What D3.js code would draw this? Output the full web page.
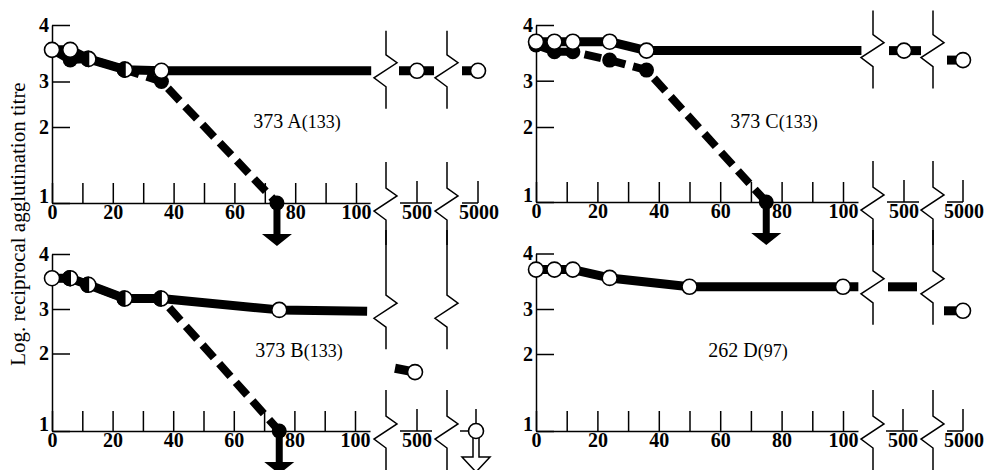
<!DOCTYPE html>
<html><head><meta charset="utf-8">
<script src="https://cdn.jsdelivr.net/npm/d3@7"></script>
<style>
html,body{margin:0;padding:0;background:#fff;}
svg{display:block;}
</style></head><body>
<svg id="chart" width="988" height="470"></svg>
<script>
// ---------------- data ----------------
const panelNames = ["373 A", "373 C", "373 B", "262 D"];
const panelCounts = ["(133)", "(133)", "(133)", "(97)"];
const yTitle = "Log. reciprocal agglutination titre";
const xTickValues = [0, 10, 20, 30, 40, 50, 60, 70, 80, 90, 100];
const xTickLabels = ["0", "", "20", "", "40", "", "60", "", "80", "", "100"];
const yTickValues = [1, 2, 3, 4];
const farTickLabels = ["500", "5000"];

// open-circle series (solid line); marks: o = open, h = half filled (both series coincide)
const openTimesA = [0, 6, 12, 24, 36];
const openValuesA = [3.56, 3.56, 3.40, 3.21, 3.19];
const openMarksA = ["o", "o", "h", "h", "o"];
const openTimesC = [0, 6, 12, 24, 36];
const openValuesC = [3.70, 3.70, 3.70, 3.70, 3.54];
const openMarksC = ["o", "o", "o", "o", "o"];
const openTimesB = [0, 6, 12, 24, 36, 75];
const openValuesB = [3.56, 3.56, 3.44, 3.19, 3.19, 2.98];
const openMarksB = ["o", "h", "h", "h", "h", "o"];
const openTimesD = [0, 6, 12, 24, 50, 100];
const openValuesD = [3.71, 3.71, 3.71, 3.56, 3.40, 3.40];
const openMarksD = ["o", "o", "o", "o", "o", "o"];

// filled-circle series (dashed line); marks: f = filled, fa = filled + "below 1" arrow, "" = hidden
const filledTimesA = [0, 6, 12, 24, 36, 74];
const filledValuesA = [3.56, 3.38, 3.40, 3.21, 3.00, 1.00];
const filledMarksA = ["", "f", "", "", "f", "fa"];
const filledTimesC = [0, 6, 12, 24, 36, 75];
const filledValuesC = [3.64, 3.52, 3.52, 3.37, 3.19, 1.00];
const filledMarksC = ["f", "f", "f", "f", "f", "fa"];
const filledTimesB = [0, 6, 12, 24, 36, 75];
const filledValuesB = [3.56, 3.56, 3.44, 3.19, 3.19, 1.00];
const filledMarksB = ["", "", "", "", "", "fa"];
const filledTimesD = [];
const filledValuesD = [];
const filledMarksD = [];

// solid line continuation up to the axis break
const tailTimes = [105, 106, 104, 105];
const tailValues = [3.19, 3.54, 2.95, 3.40];
// values beyond the break (500 and 5000)
const far500Values = [3.19, 3.54, 1.76, 3.40];
const far500StubStart = [3.19, 3.54, 1.81, 3.40];
const far500Marks = ["o", "o", "o", ""];
const far5000Values = [3.19, 3.37, 1.00, 2.96];
const far5000Marks = ["o", "o", "oa", "o"]; // oa = open + hollow arrow

const openTimes = [openTimesA, openTimesC, openTimesB, openTimesD];
const openValues = [openValuesA, openValuesC, openValuesB, openValuesD];
const openMarks = [openMarksA, openMarksC, openMarksB, openMarksD];
const filledTimes = [filledTimesA, filledTimesC, filledTimesB, filledTimesD];
const filledValues = [filledValuesA, filledValuesC, filledValuesB, filledValuesD];
const filledMarks = [filledMarksA, filledMarksC, filledMarksB, filledMarksD];

// ---------------- layout ----------------
const layouts = [
  {x0:52,  x100:356, yr:[203,127,81.5,25],   xEnd:370, brk:[386,447], p500:417, p5000:478, lab:[297,128], top:true,  s500:[-18,17], s5000:[-16,0], show5000:true},
  {x0:536, x100:843, yr:[202,127,80.7,25],   xEnd:858, brk:[873,933], p500:904, p5000:963, lab:[774,128], top:true,  s500:[-15,17], s5000:[-16,0], show5000:true},
  {x0:52,  x100:355, yr:[431,353.5,309,254], xEnd:370, brk:[386,447], p500:417, p5000:476, lab:[299,357], top:false, s500:[-22,-2], s5000:null, show5000:false},
  {x0:536, x100:843, yr:[431,354,309,253.5], xEnd:858, brk:[873,933], p500:903, p5000:963, lab:[748,357], top:false, s500:[-15,14], s5000:[-19,0], show5000:true}
];

const svg = d3.select("#chart");
const FONT = "'Liberation Serif','Times New Roman',serif";
const R = 7.5;

function zigPath(cx, cy, top, bottom) {
  return `M${cx},${top}V${cy-16}L${cx+11},${cy-8}L${cx-12},${cy+7}L${cx},${cy+16}V${bottom}`;
}

layouts.forEach((L, i) => {
  const g = svg.append("g");
  const x = d3.scaleLinear().domain([0, 100]).range([L.x0, L.x100]);
  const y = d3.scaleLinear().domain(yTickValues).range(L.yr);
  const far = d3.scaleOrdinal().domain(farTickLabels).range([L.p500, L.p5000]);
  const xEndVal = x.invert(L.xEnd);

  // x axis (ticks point up)
  const xa = g.append("g").attr("transform", `translate(0,${y(1)})`)
    .call(d3.axisBottom(x.copy().domain([0, xEndVal]).range([L.x0, L.xEnd]))
      .tickValues(xTickValues).tickFormat((d, k) => xTickLabels[k])
      .tickSizeInner(-20).tickSizeOuter(0).tickPadding(2));
  // y axis (ticks point right)
  const ya = g.append("g").attr("transform", `translate(${L.x0},0)`)
    .call(d3.axisLeft(y).tickValues(yTickValues).tickFormat(d => String(d))
      .tickSizeInner(-18).tickSizeOuter(0).tickPadding(3));
  [xa, ya].forEach(a => {
    a.selectAll("path,line").attr("stroke", "#000").attr("stroke-width", 1.5);
    a.selectAll("text").attr("fill", "#000").style("font-family", FONT)
      .style("font-weight", "bold").style("font-size", "20px");
  });
  ya.selectAll(".tick").filter(d => d === 1).select("text").attr("dy", "-0.05em");

  // mini axes beyond the break
  const y1 = y(1);
  farTickLabels.forEach((lbl, k) => {
    const px = far(lbl);
    const x1 = k === 0 ? px - 17 : px - 16;
    const x2 = k === 0 ? px + 15 : px;
    g.append("line").attr("x1", x1).attr("x2", x2).attr("y1", y1).attr("y2", y1)
      .attr("stroke", "#000").attr("stroke-width", 1.5);
    g.append("line").attr("x1", px).attr("x2", px).attr("y1", y1 - 22).attr("y2", y1)
      .attr("stroke", "#000").attr("stroke-width", 1.5);
    if (k === 0 || L.show5000) {
      g.append("text").attr("x", px + (k === 1 ? 1 : 0)).attr("y", y1 + 2).attr("dy", "0.71em")
        .attr("text-anchor", "middle").style("font-family", FONT).style("font-weight", "bold")
        .style("font-size", "20px").text(lbl);
    }
  });

  // break symbols
  const cyUp = y(tailValues[i]);
  const cyLow = y1 + 1;
  L.brk.forEach(bx => {
    const upTop = L.top ? cyUp - 40 : 230;
    g.append("path").attr("d", zigPath(bx, cyUp, upTop, cyUp + 38))
      .attr("fill", "none").attr("stroke", "#000").attr("stroke-width", 1.5);
    const lowBottom = L.top ? 245 : 475;
    g.append("path").attr("d", zigPath(bx, cyLow, cyLow - 42, lowBottom))
      .attr("fill", "none").attr("stroke", "#000").attr("stroke-width", 1.5);
  });

  // dashed line (filled series)
  const fPts = filledTimes[i].map((t, k) => [t, filledValues[i][k], filledMarks[i][k]]);
  if (fPts.length) {
    g.append("path").datum(fPts)
      .attr("d", d3.line().x(d => x(d[0])).y(d => y(d[1])))
      .attr("fill", "none").attr("stroke", "#000").attr("stroke-width", 8)
      .attr("stroke-dasharray", "17,8").attr("stroke-linejoin", "round");
  }
  // solid line (open series) + continuation
  const oPts = openTimes[i].map((t, k) => [t, openValues[i][k], openMarks[i][k]]);
  const solid = oPts.concat([[tailTimes[i], tailValues[i], ""]]);
  g.append("path").datum(solid)
    .attr("d", d3.line().x(d => x(d[0])).y(d => y(d[1])))
    .attr("fill", "none").attr("stroke", "#000").attr("stroke-width", 9)
    .attr("stroke-linejoin", "round");

  // stubs beyond break
  const p5 = far("500");
  g.append("line").attr("x1", p5 + L.s500[0]).attr("x2", p5 + L.s500[1])
    .attr("y1", y(far500StubStart[i])).attr("y2", y(far500Values[i]))
    .attr("stroke", "#000").attr("stroke-width", 9);
  const p50 = far("5000");
  if (L.s5000) {
    g.append("line").attr("x1", p50 + L.s5000[0]).attr("x2", p50 + L.s5000[1])
      .attr("y1", y(far5000Values[i])).attr("y2", y(far5000Values[i]))
      .attr("stroke", "#000").attr("stroke-width", 9);
  }

  // filled markers + arrows
  fPts.forEach(d => {
    if (!d[2]) return;
    const cx = x(d[0]), cy = y(d[1]);
    g.append("circle").attr("cx", cx).attr("cy", cy).attr("r", R).attr("fill", "#000");
    if (d[2] === "fa") {
      g.append("path")
        .attr("d", `M${cx-3.5},${cy}V${cy+31}H${cx-15}L${cx},${cy+43}L${cx+15},${cy+31}H${cx+3.5}V${cy}Z`)
        .attr("fill", "#000");
    }
  });

  // open / half markers
  function openMarker(cx, cy, type) {
    g.append("circle").attr("cx", cx).attr("cy", cy).attr("r", R)
      .attr("fill", "#fff").attr("stroke", "#000").attr("stroke-width", 1.6);
    if (type === "h") {
      g.append("path").attr("d", `M${cx},${cy-R}A${R},${R} 0 0 0 ${cx},${cy+R}Z`)
        .attr("fill", "#000").attr("stroke", "#000").attr("stroke-width", 1.6);
    }
  }
  oPts.forEach(d => openMarker(x(d[0]), y(d[1]), d[2]));
  if (far500Marks[i]) openMarker(p5 - (L.s500[1] < 0 ? 2 : 0) + 0, y(far500Values[i]), "o");
  if (far5000Marks[i]) {
    const cx = p50, cy = y(far5000Values[i]);
    if (far5000Marks[i] === "oa") {
      g.append("path")
        .attr("d", `M${cx-3},${cy+6}V${cy+26}H${cx-14}L${cx},${cy+41}L${cx+14},${cy+26}H${cx+3}V${cy+6}`)
        .attr("fill", "#fff").attr("stroke", "#000").attr("stroke-width", 1.5);
    }
    openMarker(cx, cy, "o");
  }

  // panel label
  const t = g.append("text").attr("x", L.lab[0]).attr("y", L.lab[1]).attr("text-anchor", "middle")
    .style("font-family", FONT).style("font-size", "20px").attr("fill", "#000");
  t.append("tspan").text(panelNames[i]);
  t.append("tspan").style("font-size", "18px").text(panelCounts[i]);
});

// y axis title
svg.append("text").attr("transform", "translate(25,224) rotate(-90)")
  .attr("text-anchor", "middle").style("font-family", FONT).style("font-size", "21px")
  .attr("fill", "#000").text(yTitle);
</script>
</body></html>
